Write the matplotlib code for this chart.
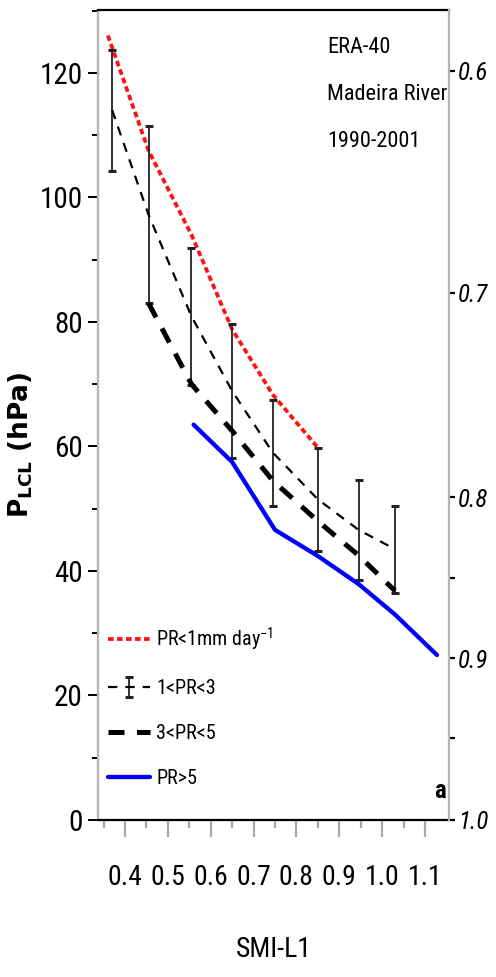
import matplotlib
matplotlib.use("Agg")
import matplotlib.pyplot as plt
import matplotlib.font_manager as fm
from matplotlib.ticker import FixedLocator, MultipleLocator

# ---- data -------------------------------------------------------------
# PR < 1 mm/day
red_x = [0.36, 0.455, 0.555, 0.65, 0.745, 0.85]
red_y = [126.0, 107.5, 94.0, 78.8, 68.3, 59.8]

# 1 < PR < 3 (mean +/- spread)
eb_x = [0.37, 0.455, 0.555, 0.65, 0.745, 0.85, 0.945, 1.03]
eb_mean = [114.0, 97.2, 80.9, 68.9, 59.0, 51.5, 46.6, 43.5]
eb_err = [9.7, 14.2, 11.0, 10.7, 8.5, 8.3, 8.0, 7.0]

# 3 < PR < 5
th_x = [0.455, 0.555, 0.65, 0.745, 0.85, 0.945, 1.03]
th_y = [83.0, 70.0, 62.5, 54.5, 48.0, 42.5, 36.8]

# PR > 5
bl_x = [0.56, 0.65, 0.75, 0.85, 0.945, 1.03, 1.128]
bl_y = [63.5, 57.5, 46.6, 42.4, 37.9, 33.0, 26.5]

legend_labels = ["PR<1mm day$^{-1}$", "1<PR<3", "3<PR<5", "PR>5"]
x_ticks = [0.4, 0.5, 0.6, 0.7, 0.8, 0.9, 1.0, 1.1]
x_ticklabels = ["0.4", "0.5", "0.6", "0.7", "0.8", "0.9", "1.0", "1.1"]
y_ticks = [0, 20, 40, 60, 80, 100, 120]
# right-hand scale: labels and where they sit on the hPa axis
rh_labels = ["0.6", "0.7", "0.8", "0.9", "1.0"]
rh_pos = [120.3, 84.7, 51.8, 26.0, 0.0]
rh_minor = [38.9, 13.2]
info_lines = ["ERA-40", "Madeira River", "1990-2001"]

# ---- fonts ------------------------------------------------------------
names = {f.name for f in fm.fontManager.ttflist}
narrow = None
for cand in ["Liberation Sans Narrow", "Roboto Condensed", "Open Sans Condensed",
             "Noto Sans Condensed", "Liberation Sans"]:
    if cand in names:
        narrow = cand
        break
if narrow is None:
    narrow = "DejaVu Sans"
plt.rcParams["font.family"] = [narrow, "DejaVu Sans"]
plt.rcParams["mathtext.fontset"] = "custom"
plt.rcParams["mathtext.rm"] = narrow
plt.rcParams["mathtext.it"] = narrow + ":italic"
plt.rcParams["mathtext.default"] = "regular"

# ---- figure -----------------------------------------------------------
fig = plt.figure(figsize=(4.96, 9.77), dpi=100)
ax = fig.add_axes([0.1976, 0.1607, 0.7076, 0.8291])
ax.set_xlim(0.337, 1.156)
ax.set_ylim(0, 130.1)

red_line, = ax.plot(red_x, red_y, color="#ff1010", lw=2.7,
                    dashes=(1.5, 0.9), solid_capstyle="butt")
eb = ax.errorbar(eb_x, eb_mean, yerr=eb_err, color="black", lw=1.6,
                 ecolor="#222222", elinewidth=1.3,
                 capsize=3.2, capthick=2.2)
eb[0].set_dashes((4.2, 3.6))
th_line, = ax.plot(th_x, th_y, color="black", lw=3.6, dashes=(3.2, 2.5))
bl_line, = ax.plot(bl_x, bl_y, color="#0000ff", lw=3.1,
                   solid_joinstyle="round", solid_capstyle="round")

# axes styling
for side in ("top", "bottom"):
    ax.spines[side].set_color("black")
    ax.spines[side].set_linewidth(1.6)
ax.spines["left"].set_color("#b4b4b4")
ax.spines["left"].set_linewidth(1.6)
ax.spines["right"].set_visible(False)

ax.yaxis.set_major_locator(FixedLocator(y_ticks))
ax.yaxis.set_minor_locator(MultipleLocator(10))
ax.set_yticklabels([str(v) for v in y_ticks])
ax.tick_params(axis="y", which="major", direction="out", length=7, width=1.4,
               color="black", labelsize=21, pad=4)
ax.tick_params(axis="y", which="minor", direction="out", length=4, width=1.4,
               color="black")

ax.xaxis.set_major_locator(FixedLocator(x_ticks))
ax.xaxis.set_minor_locator(FixedLocator([t - 0.05 for t in x_ticks]))
ax.set_xticklabels(x_ticklabels)
ax.tick_params(axis="x", which="major", direction="out", length=12, width=1.6,
               color="#a8a8a8", labelsize=20, pad=20)
ax.tick_params(axis="x", which="minor", direction="out", length=6, width=1.6,
               color="#a8a8a8")

ax.set_xlabel("SMI-L1", fontsize=20)
ax.xaxis.set_label_coords(0.5, -0.143)
ax.set_ylabel("P$_{LCL}$ (hPa)", fontsize=19, family=["DejaVu Sans"],
              fontweight="bold")
ax.yaxis.set_label_coords(-0.18, 0.463)

# right-hand axis
ax2 = ax.twinx()
ax2.set_ylim(ax.get_ylim())
for side in ("top", "bottom", "left"):
    ax2.spines[side].set_visible(False)
ax2.spines["right"].set_color("#b4b4b4")
ax2.spines["right"].set_linewidth(1.6)
ax2.yaxis.set_major_locator(FixedLocator(rh_pos))
ax2.yaxis.set_minor_locator(FixedLocator(rh_minor))
ax2.set_yticklabels(rh_labels, fontstyle="italic")
ax2.tick_params(axis="y", which="major", direction="out", length=4.5,
                width=1.6, color="black", labelsize=18, pad=2)
ax2.tick_params(axis="y", which="minor", direction="out", length=4.5,
                width=1.6, color="black")

# annotations
for i, line in enumerate(info_lines):
    ax.text(0.652, 0.954 - i * 0.058, line, transform=ax.transAxes,
            ha="left", va="center", fontsize=16)
ax.text(0.99, 0.036, "a", transform=ax.transAxes, ha="right", va="center",
        fontsize=18, fontweight="bold")

leg = ax.legend([red_line, eb, th_line, bl_line], legend_labels,
                loc="upper left", bbox_to_anchor=(0.028, 0.24),
                frameon=False, borderpad=0, borderaxespad=0,
                handlelength=2.1, handletextpad=0.3, labelspacing=1.3,
                fontsize=14.5)

fig.savefig("out.png", dpi=100)
